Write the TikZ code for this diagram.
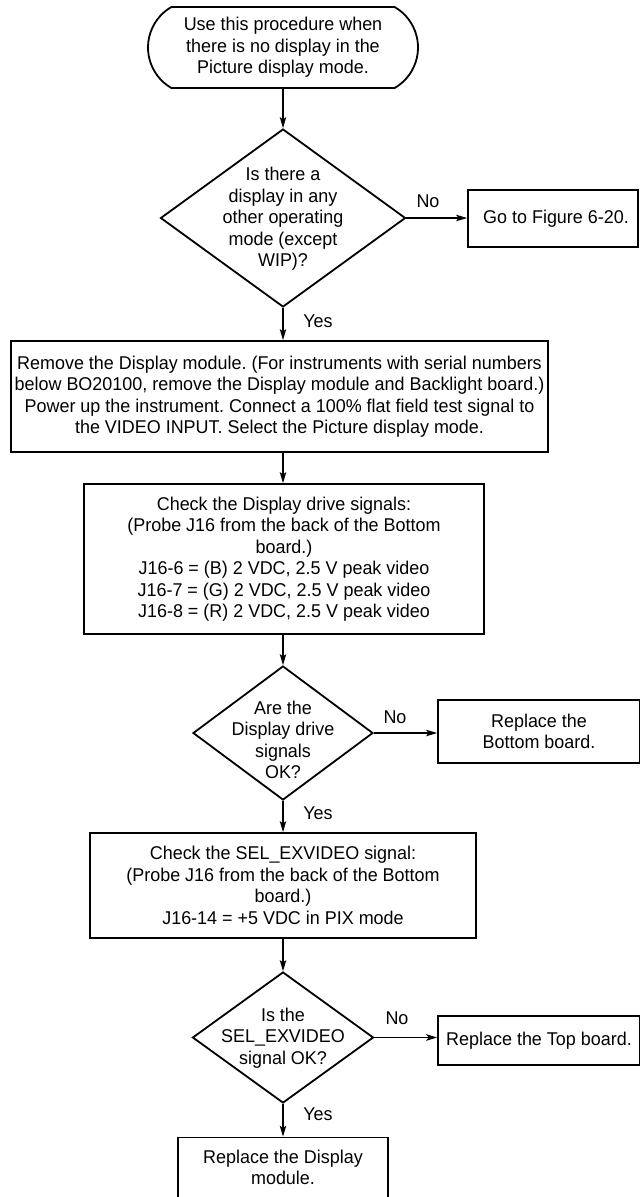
\documentclass[tikz,border=0pt]{standalone}
\usepackage{fontspec}
\setmainfont{Liberation Sans}[FakeStretch=0.97]
\usetikzlibrary{shapes.geometric,shapes.misc,arrows.meta}
\newcommand{\txtfont}{\fontsize{18.5}{21.5}\selectfont}
\frenchspacing
\begin{document}
\begin{tikzpicture}[x=1pt,y=-1pt,
  every node/.style={font=\txtfont},
  boxnode/.style={draw, line width=1.8pt, rectangle, inner sep=0pt, align=center},
  dianode/.style={draw, diamond, line width=1.8pt, inner sep=0pt},
  termnode/.style={draw, line width=1.8pt, rounded rectangle, rounded rectangle arc length=120, inner sep=0pt, align=center},
  txtnode/.style={align=center, inner sep=0pt},
  conn/.style={line width=1.1pt, -{Stealth[length=11pt,width=6.5pt,inset=2.5pt]}},
  lbl/.style={inner sep=0pt}]
\useasboundingbox (0,0) rectangle (640,1197);

% start
\node[termnode, minimum width=270, minimum height=81] (start) at (283,47.5)
  {Use this procedure when\\there is no display in the\\Picture display mode.};

% decision 1
\node[dianode, minimum width=245, minimum height=178] (d1) at (283,218) {};
\node[txtnode] (d1t) at (283,219) {Is there a\\display in any\\other operating\\mode (except\\WIP)?};
\node[boxnode, minimum width=170, minimum height=57] (goto) at (553,218.5) {\hspace*{6pt}Go to Figure 6-20.};
\node[lbl] (no1) at (428,201) {No};
\node[lbl] (yes1) at (318,321) {Yes};

% box 1
\node[boxnode, minimum width=537, minimum height=111] (b1) at (279.5,396.5)
  {Remove the Display module. (For instruments with serial numbers\\below BO20100, remove the Display module and Backlight board.)\\Power up the instrument. Connect a 100\% flat field test signal to\\the VIDEO INPUT. Select the Picture display mode.};

% box 2
\node[boxnode, minimum width=400, minimum height=150] (b2) at (284,559)
  {Check the Display drive signals:\\(Probe J16 from the back of the Bottom\\board.)\\J16-6 = (B) 2 VDC, 2.5 V peak video\\J16-7 = (G) 2 VDC, 2.5 V peak video\\J16-8 = (R) 2 VDC, 2.5 V peak video};

% decision 2
\node[dianode, minimum width=180, minimum height=134] (d2) at (283,733) {};
\node[txtnode] (d2t) at (283,740) {Are the\\Display drive\\signals\\OK?};
\node[boxnode, minimum width=202, minimum height=63] (bot) at (539,731.5) {Replace the\\Bottom board.};
\node[lbl] (no2) at (395,717) {No};
\node[lbl] (yes2) at (318,813) {Yes};

% box 3
\node[boxnode, minimum width=386, minimum height=105] (b3) at (283,885.5)
  {Check the SEL\_EXVIDEO signal:\\(Probe J16 from the back of the Bottom\\board.)\\J16-14 = +5 VDC in PIX mode};

% decision 3
\node[dianode, minimum width=181, minimum height=131] (d3) at (283,1037.5) {};
\node[txtnode] (d3t) at (283,1038) {Is the\\SEL\_EXVIDEO\\signal OK?};
\node[boxnode, minimum width=202, minimum height=49] (top) at (539,1040.5) {Replace the Top board.};
\node[lbl] (no3) at (397,1018) {No};
\node[lbl] (yes3) at (318,1114) {Yes};

% final
\node[boxnode, minimum width=210, minimum height=60] (fin) at (283,1167.5) {Replace the Display\\module.};

% connectors
\draw[conn] (start.south) -- (d1.north);
\draw[conn] (d1.east) -- (goto.west |- d1.east);
\draw[conn] (d1.south) -- (d1.south |- b1.north);
\draw[conn] (d1.south |- b1.south) -- (d1.south |- b2.north);
\draw[conn] (d1.south |- b2.south) -- (d2.north);
\draw[conn] (d2.east) -- (bot.west |- d2.east);
\draw[conn] (d2.south) -- (d2.south |- b3.north);
\draw[conn] (b3.south) -- (d3.north);
\draw[conn] (d3.east) -- (top.west |- d3.east);
\draw[conn] (d3.south) -- (fin.north);
\end{tikzpicture}
\end{document}
